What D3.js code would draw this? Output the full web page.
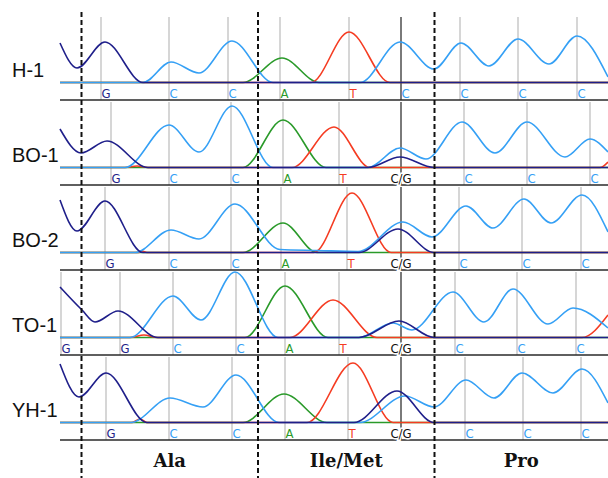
<!DOCTYPE html>
<html>
<head>
<meta charset="utf-8">
<script src="https://cdn.jsdelivr.net/npm/d3@7"></script>
<style>
  body { margin: 0; background: #fff; }
  svg { display: block; }
</style>
</head>
<body>
<svg width="608" height="478"></svg>
<script>
const SAMPLES = ["H-1", "BO-1", "BO-2", "TO-1", "YH-1"];
const CODONS = ["Ala", "Ile/Met", "Pro"];
// codon boundaries, in scan units
const CODON_BOUNDS = [47, 400, 753, 1100];

// base calls per sample and the scan where each one was called
const CALLS = [
  ["G", "C", "C", "A", "T", "C", "C", "C", "C"],
  ["G", "C", "C", "A", "T", "C/G", "C", "C", "C"],
  ["G", "C", "C", "A", "T", "C/G", "C", "C", "C"],
  ["G", "G", "C", "C", "A", "T", "C/G", "C", "C", "C"],
  ["G", "C", "C", "A", "T", "C/G", "C", "C", "C"]
];
const CALL_SCANS = [
  [86, 222, 340, 444, 582, 686, 804, 920, 1038],
  [106, 222, 346, 450, 562, 686, 812, 938, 1064],
  [94, 222, 346, 446, 578, 686, 802, 928, 1046],
  [6, 124, 230, 356, 454, 562, 686, 794, 918, 1036],
  [96, 222, 348, 454, 580, 686, 814, 930, 1046]
];
const VARIANT_SCAN = 686;

// trace signal, [scan, signal] per sample
const TRACE_G = [
  [[4, 395], [38, 145], [94, 405], [170, 0], [1100, 0]],
  [[4, 385], [46, 145], [98, 265], [180, 0], [620, 0], [684, 105], [752, 0], [1100, 0]],
  [[4, 525], [38, 215], [94, 515], [170, 0], [602, 0], [680, 235], [752, 0], [1100, 0]],
  [[4, 505], [48, 275], [74, 155], [120, 265], [200, 0], [602, 0], [682, 165], [752, 0], [1100, 0]],
  [[4, 585], [42, 255], [96, 495], [178, 0], [592, 0], [678, 315], [752, 0], [1100, 0]]
];
const TRACE_C = [
  [[4, 0], [170, 0], [226, 205], [282, 95], [348, 415], [430, 0], [604, 0], [684, 405], [752, 135],
   [806, 395], [862, 165], [920, 435], [982, 185], [1038, 465], [1100, 55]],
  [[4, 0], [134, 0], [222, 425], [282, 155], [348, 615], [430, 0], [620, 0], [684, 195], [736, 85],
   [808, 455], [874, 145], [938, 455], [1014, 105], [1064, 285], [1100, 155]],
  [[4, 0], [154, 0], [226, 225], [282, 135], [354, 485], [444, 30], [520, 20], [600, 10], [690, 305],
   [748, 155], [816, 465], [870, 245], [932, 535], [986, 295], [1048, 575], [1100, 205]],
  [[4, 0], [144, 0], [230, 415], [286, 175], [354, 655], [440, 0], [602, 0], [670, 145], [708, 75],
   [790, 455], [852, 155], [910, 485], [980, 135], [1030, 295], [1100, 95]],
  [[4, 0], [146, 0], [224, 245], [290, 155], [356, 475], [442, 0], [604, 0], [694, 265], [752, 155],
   [816, 425], [872, 245], [928, 495], [990, 295], [1048, 535], [1100, 195]]
];
const TRACE_A = [
  [[4, 0], [370, 0], [448, 245], [522, 0], [1100, 0]],
  [[4, 0], [370, 0], [450, 475], [536, 0], [1100, 0]],
  [[4, 0], [370, 0], [450, 295], [518, 0], [1100, 0]],
  [[4, 0], [374, 0], [454, 515], [540, 0], [1100, 0]],
  [[4, 0], [370, 0], [452, 285], [538, 0], [1100, 0]]
];
const TRACE_T = [
  [[4, 0], [506, 0], [582, 505], [664, 0], [1100, 0]],
  [[4, 0], [134, 0], [158, 15], [180, 0], [468, 0], [552, 405], [624, 0], [1084, 0], [1100, 55]],
  [[4, 0], [160, 0], [168, 15], [178, 0], [512, 0], [588, 595], [666, 0], [1100, 0]],
  [[4, 0], [144, 0], [172, 25], [198, 0], [464, 0], [550, 375], [638, 0], [1048, 0], [1100, 225]],
  [[4, 0], [148, 0], [164, 35], [178, 0], [498, 0], [590, 595], [670, 0], [1100, 0]]
];

const COLORS = { G: "#1f1f8a", C: "#35a0f5", A: "#2a9a2a", T: "#f53c22", "C/G": "#111" };
// drawing order, last on top
const CHANNELS = [["A", TRACE_A], ["T", TRACE_T], ["C", TRACE_C], ["G", TRACE_G]];

const svg = d3.select("svg");
const xScale = d3.scaleLinear().domain([0, 1100]).range([58, 608]);
const rowTop = i => 15 + 85 * i;
const rowBase = i => rowTop(i) + 67.5;
const rowBottom = i => rowTop(i) + 85;

SAMPLES.forEach((name, i) => {
  const g = svg.append("g");
  const yScale = d3.scaleLinear().domain([0, 700]).range([rowBase(i), rowBase(i) - 70]);

  // call position lines
  g.selectAll("line.call")
    .data(CALL_SCANS[i])
    .enter()
    .append("line")
    .attr("x1", d => xScale(d))
    .attr("x2", d => xScale(d))
    .attr("y1", rowTop(i) + 2)
    .attr("y2", rowBottom(i))
    .attr("stroke", d => (d === VARIANT_SCAN ? "#7a7a7a" : "#c8c8c8"))
    .attr("stroke-width", d => (d === VARIANT_SCAN ? 2 : 1.5));

  // bottom rule of the panel
  g.append("line")
    .attr("x1", xScale(4))
    .attr("x2", 608)
    .attr("y1", rowBottom(i))
    .attr("y2", rowBottom(i))
    .attr("stroke", "#2a2a2a")
    .attr("stroke-width", 1.5);

  const line = d3
    .line()
    .x(d => xScale(d[0]))
    .y(d => yScale(d[1]))
    .curve(d3.curveMonotoneX);

  CHANNELS.forEach(([base, traces]) => {
    g.append("path")
      .attr("d", line(traces[i]))
      .attr("fill", "none")
      .attr("stroke", COLORS[base])
      .attr("stroke-width", 1.6);
  });

  // base call labels
  g.selectAll("text.call")
    .data(CALLS[i].map((c, k) => ({ c, s: CALL_SCANS[i][k] })))
    .enter()
    .append("text")
    .attr("x", d => xScale(d.s) + (d.c === "C/G" ? 0 : 0.5))
    .attr("y", rowBase(i) + 15)
    .attr("text-anchor", d => (d.c === "C/G" ? "middle" : "start"))
    .attr("fill", d => COLORS[d.c])
    .attr("stroke", d => (d.c === "C/G" ? "#fff" : "none"))
    .attr("stroke-width", 3)
    .attr("paint-order", "stroke")
    .style("font-family", "'DejaVu Sans', sans-serif")
    .style("font-size", "13px")
    .style("font-stretch", "condensed")
    .text(d => d.c);

  // sample name
  svg.append("text")
    .attr("x", 12)
    .attr("y", rowBase(i) - 6)
    .attr("fill", "#111")
    .style("font", "20px 'Liberation Sans', Arial, sans-serif")
    .text(name);
});

// codon boundaries
svg.selectAll("line.codon")
  .data(CODON_BOUNDS.slice(0, 3))
  .enter()
  .append("line")
  .attr("x1", d => xScale(d))
  .attr("x2", d => xScale(d))
  .attr("y1", 12)
  .attr("y2", 478)
  .attr("stroke", "#111")
  .attr("stroke-width", 2)
  .attr("stroke-dasharray", "5,3");

// codon names
svg.selectAll("text.codon")
  .data(CODONS)
  .enter()
  .append("text")
  .attr("x", (d, k) => xScale((CODON_BOUNDS[k] + CODON_BOUNDS[k + 1]) / 2))
  .attr("y", 467)
  .attr("text-anchor", "middle")
  .attr("fill", "#111")
  .style("font", "bold 18px 'DejaVu Serif', serif")
  .text(d => d);
</script>
</body>
</html>
